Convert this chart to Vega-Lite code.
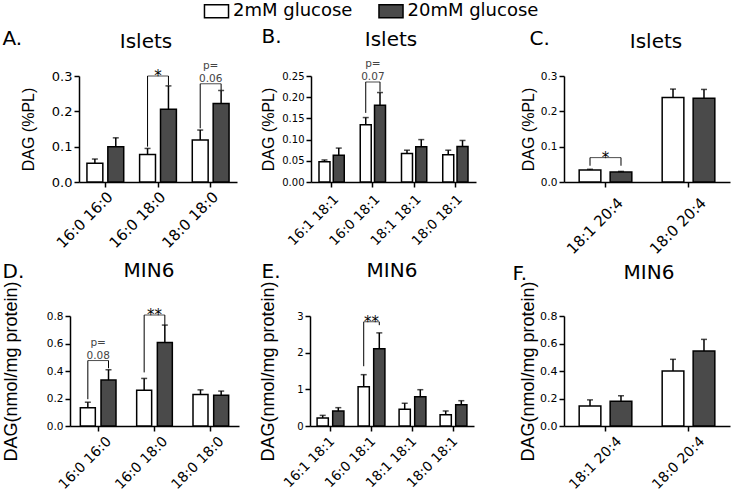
{
"$schema":"https://vega.github.io/schema/vega-lite/v6.json",
"padding":{"left":2,"top":2,"right":2,"bottom":2},
"config":{"font":"DejaVu Sans","view":{"stroke":null},
 "axis":{"grid":false,"domainColor":"black","domainWidth":1.5,"tickColor":"black","tickWidth":1.5,"tickSize":5,"labelColor":"black","titleColor":"black","titleFontWeight":"normal","labelPadding":2,"titleFont":"Liberation Sans","labelFont":"DejaVu Sans"},
 "axisY":{"labelOverlap":false},
 "title":{"fontWeight":"normal","fontSize":20,"color":"black","baseline":"alphabetic","font":"DejaVu Sans","anchor":"middle","frame":"group"}},
"resolve":{"scale":{"xOffset":"independent"}},
"bounds":"flush","columns":3,"spacing":{"row":134,"column":71},
"concat":[
{"width":169,"height":106,"title":{"text":"Islets","dx":-8.5,"offset":-24},"resolve":{"axis":{"x":"independent"}},
 "data":{"values":[
  {"lipid":"16:0 16:0","glc":"2mM glucose","mean":0.053,"err":0.065},
  {"lipid":"16:0 16:0","glc":"20mM glucose","mean":0.100,"err":0.125},
  {"lipid":"16:0 18:0","glc":"2mM glucose","mean":0.078,"err":0.095},
  {"lipid":"16:0 18:0","glc":"20mM glucose","mean":0.206,"err":0.272},
  {"lipid":"18:0 18:0","glc":"2mM glucose","mean":0.119,"err":0.147},
  {"lipid":"18:0 18:0","glc":"20mM glucose","mean":0.222,"err":0.259}]},
 "layer":[
  {"mark":{"type":"bar","stroke":"black","strokeWidth":1.5},"encoding":{
   "x":{"field":"lipid","type":"nominal","scale":{"domain":["16:0 16:0","16:0 18:0","18:0 18:0"],"range":[9,167],"paddingInner":0,"paddingOuter":0},"axis":{"title":null,"labelAngle":-45,"labelFontSize":15,"labelPadding":2}},
   "xOffset":{"field":"glc","type":"nominal","scale":{"domain":["2mM glucose","20mM glucose"],"paddingInner":0.24,"paddingOuter":0.38}},
   "y":{"field":"mean","type":"quantitative","title":"DAG (%PL)","scale":{"domain":[0,0.3],"nice":false},"axis":{"title":"DAG (%PL)","values":[0,0.1,0.2,0.3],"format":".1f","labelFontSize":13,"titleFontSize":16,"titlePadding":15,"offset":-9,"labelOverlap":false}},
   "fill":{"field":"glc","type":"nominal","scale":{"domain":["2mM glucose","20mM glucose"],"range":["white","#4a4a4a"]},"legend":{"title":null,"orient":"none","legendX":137.5,"legendY":-74,"direction":"horizontal","symbolType":"M-1.85,-1H1.85V1H-1.85Z","symbolSize":169,"symbolStrokeColor":"black","symbolStrokeWidth":1.5,"labelFontSize":18,"labelFont":"DejaVu Sans","labelColor":"black","labelOffset":7.5,"columnPadding":22.5}}}},
  {"mark":{"type":"rule","color":"black","strokeWidth":1.5},"encoding":{
   "x":{"field":"lipid","type":"nominal","scale":{"domain":["16:0 16:0","16:0 18:0","18:0 18:0"],"range":[9,167],"paddingInner":0,"paddingOuter":0},"axis":{"orient":"top","domain":false,"ticks":false,"labels":false,"title":"A.","titleX":-68,"titleY":-32,"titleAlign":"left","titleBaseline":"alphabetic","titleFontSize":20,"titleFont":"DejaVu Sans","titleAngle":0}},
   "xOffset":{"field":"glc","type":"nominal","scale":{"domain":["2mM glucose","20mM glucose"],"paddingInner":0.24,"paddingOuter":0.38}},
   "y":{"field":"mean","type":"quantitative","title":"DAG (%PL)","scale":{"domain":[0,0.3],"nice":false},"axis":{"title":"DAG (%PL)","values":[0,0.1,0.2,0.3],"format":".1f","labelFontSize":13,"titleFontSize":16,"titlePadding":15,"offset":-9,"labelOverlap":false}},"y2":{"field":"err"}}},
  {"mark":{"type":"tick","color":"black","thickness":1.5,"size":6},"encoding":{
   "x":{"field":"lipid","type":"nominal","axis":null},
   "xOffset":{"field":"glc","type":"nominal","scale":{"domain":["2mM glucose","20mM glucose"],"paddingInner":0.24,"paddingOuter":0.38}},
   "y":{"field":"err","type":"quantitative","title":"DAG (%PL)","scale":{"domain":[0,0.3],"nice":false},"axis":{"title":"DAG (%PL)","values":[0,0.1,0.2,0.3],"format":".1f","labelFontSize":13,"titleFontSize":16,"titlePadding":15,"offset":-9,"labelOverlap":false}}}},
  {"data":{"values":[
    {"lipid":"16:0 18:0","glc":"2mM glucose","lo":0.100,"hi":0.300},
    {"lipid":"16:0 18:0","glc":"20mM glucose","lo":0.273,"hi":0.300},
    {"lipid":"18:0 18:0","glc":"2mM glucose","lo":0.152,"hi":0.278},
    {"lipid":"18:0 18:0","glc":"20mM glucose","lo":0.260,"hi":0.278}]},
   "mark":{"type":"rule","color":"black","strokeWidth":1},"encoding":{
   "x":{"field":"lipid","type":"nominal","axis":null},
   "xOffset":{"field":"glc","type":"nominal","scale":{"domain":["2mM glucose","20mM glucose"],"paddingInner":0.24,"paddingOuter":0.38}},
   "y":{"field":"lo","type":"quantitative","title":"DAG (%PL)","scale":{"domain":[0,0.3],"nice":false},"axis":{"title":"DAG (%PL)","values":[0,0.1,0.2,0.3],"format":".1f","labelFontSize":13,"titleFontSize":16,"titlePadding":15,"offset":-9,"labelOverlap":false}},"y2":{"field":"hi"}}},
  {"data":{"values":[{"lipid":"16:0 18:0","h":0.300,"star":"*"},{"lipid":"18:0 18:0","h":0.278,"p":"0.06"}]},
   "layer":[
    {"mark":{"type":"tick","color":"black","thickness":1,"size":20.9},"encoding":{"x":{"field":"lipid","type":"nominal","axis":null},"y":{"field":"h","type":"quantitative","title":"DAG (%PL)","scale":{"domain":[0,0.3],"nice":false},"axis":{"title":"DAG (%PL)","values":[0,0.1,0.2,0.3],"format":".1f","labelFontSize":13,"titleFontSize":16,"titlePadding":15,"offset":-9,"labelOverlap":false}}}},
    {"transform":[{"filter":"datum.star"}],"mark":{"type":"text","fontSize":15,"dy":5,"baseline":"alphabetic","color":"black"},"encoding":{"x":{"field":"lipid","type":"nominal","axis":null},"y":{"field":"h","type":"quantitative","title":"DAG (%PL)","scale":{"domain":[0,0.3],"nice":false},"axis":{"title":"DAG (%PL)","values":[0,0.1,0.2,0.3],"format":".1f","labelFontSize":13,"titleFontSize":16,"titlePadding":15,"offset":-9,"labelOverlap":false}},"text":{"field":"star"}}},
    {"transform":[{"filter":"datum.p"}],"mark":{"type":"text","fontSize":10.5,"dy":-14.5,"baseline":"alphabetic","color":"#444"},"encoding":{"x":{"field":"lipid","type":"nominal","axis":null},"y":{"field":"h","type":"quantitative","title":"DAG (%PL)","scale":{"domain":[0,0.3],"nice":false},"axis":{"title":"DAG (%PL)","values":[0,0.1,0.2,0.3],"format":".1f","labelFontSize":13,"titleFontSize":16,"titlePadding":15,"offset":-9,"labelOverlap":false}},"text":{"value":"p="}}},
    {"transform":[{"filter":"datum.p"}],"mark":{"type":"text","fontSize":10.5,"dy":-1.8,"baseline":"alphabetic","color":"#444"},"encoding":{"x":{"field":"lipid","type":"nominal","axis":null},"y":{"field":"h","type":"quantitative","title":"DAG (%PL)","scale":{"domain":[0,0.3],"nice":false},"axis":{"title":"DAG (%PL)","values":[0,0.1,0.2,0.3],"format":".1f","labelFontSize":13,"titleFontSize":16,"titlePadding":15,"offset":-9,"labelOverlap":false}},"text":{"field":"p"}}}
   ]}
 ]},
{"width":183,"height":106,"title":{"text":"Islets","dx":-10.5,"offset":-24},"resolve":{"axis":{"x":"independent"}},
 "data":{"values":[
  {"lipid":"16:1 18:1","glc":"2mM glucose","mean":0.048,"err":0.052},
  {"lipid":"16:1 18:1","glc":"20mM glucose","mean":0.063,"err":0.080},
  {"lipid":"16:0 18:1","glc":"2mM glucose","mean":0.135,"err":0.152},
  {"lipid":"16:0 18:1","glc":"20mM glucose","mean":0.181,"err":0.211},
  {"lipid":"18:1 18:1","glc":"2mM glucose","mean":0.067,"err":0.075},
  {"lipid":"18:1 18:1","glc":"20mM glucose","mean":0.083,"err":0.100},
  {"lipid":"18:0 18:1","glc":"2mM glucose","mean":0.064,"err":0.075},
  {"lipid":"18:0 18:1","glc":"20mM glucose","mean":0.084,"err":0.098}]},
 "layer":[
  {"mark":{"type":"bar","stroke":"black","strokeWidth":1.5},"encoding":{
   "x":{"field":"lipid","type":"nominal","scale":{"domain":["16:1 18:1","16:0 18:1","18:1 18:1","18:0 18:1"],"range":[1,166],"paddingInner":0,"paddingOuter":0},"axis":{"title":null,"labelAngle":-45,"labelFontSize":13.5,"labelPadding":5}},
   "xOffset":{"field":"glc","type":"nominal","scale":{"domain":["2mM glucose","20mM glucose"],"paddingInner":0.23,"paddingOuter":0.56}},
   "y":{"field":"mean","type":"quantitative","title":"DAG (%PL)","scale":{"domain":[0,0.25],"nice":false},"axis":{"title":"DAG (%PL)","values":[0,0.05,0.1,0.15,0.2,0.25],"format":".2f","labelFontSize":10,"titleFontSize":16,"titlePadding":5,"offset":-1,"labelOverlap":false}},
   "fill":{"field":"glc","type":"nominal","scale":{"domain":["2mM glucose","20mM glucose"],"range":["white","#4a4a4a"]},"legend":{"title":null,"orient":"none","legendX":137.5,"legendY":-74,"direction":"horizontal","symbolType":"M-1.85,-1H1.85V1H-1.85Z","symbolSize":169,"symbolStrokeColor":"black","symbolStrokeWidth":1.5,"labelFontSize":18,"labelFont":"DejaVu Sans","labelColor":"black","labelOffset":7.5,"columnPadding":22.5}}}},
  {"mark":{"type":"rule","color":"black","strokeWidth":1.5},"encoding":{
   "x":{"field":"lipid","type":"nominal","scale":{"domain":["16:1 18:1","16:0 18:1","18:1 18:1","18:0 18:1"],"range":[1,166],"paddingInner":0,"paddingOuter":0},"axis":{"orient":"top","domain":false,"ticks":false,"labels":false,"title":"B.","titleX":-49,"titleY":-34,"titleAlign":"left","titleBaseline":"alphabetic","titleFontSize":20,"titleFont":"DejaVu Sans","titleAngle":0}},
   "xOffset":{"field":"glc","type":"nominal","scale":{"domain":["2mM glucose","20mM glucose"],"paddingInner":0.23,"paddingOuter":0.56}},
   "y":{"field":"mean","type":"quantitative","title":"DAG (%PL)","scale":{"domain":[0,0.25],"nice":false},"axis":{"title":"DAG (%PL)","values":[0,0.05,0.1,0.15,0.2,0.25],"format":".2f","labelFontSize":10,"titleFontSize":16,"titlePadding":5,"offset":-1,"labelOverlap":false}},"y2":{"field":"err"}}},
  {"mark":{"type":"tick","color":"black","thickness":1.5,"size":6},"encoding":{
   "x":{"field":"lipid","type":"nominal","axis":null},
   "xOffset":{"field":"glc","type":"nominal","scale":{"domain":["2mM glucose","20mM glucose"],"paddingInner":0.23,"paddingOuter":0.56}},
   "y":{"field":"err","type":"quantitative","title":"DAG (%PL)","scale":{"domain":[0,0.25],"nice":false},"axis":{"title":"DAG (%PL)","values":[0,0.05,0.1,0.15,0.2,0.25],"format":".2f","labelFontSize":10,"titleFontSize":16,"titlePadding":5,"offset":-1,"labelOverlap":false}}}},
  {"data":{"values":[
    {"lipid":"16:0 18:1","glc":"2mM glucose","lo":0.163,"hi":0.236},
    {"lipid":"16:0 18:1","glc":"20mM glucose","lo":0.213,"hi":0.236}]},
   "mark":{"type":"rule","color":"black","strokeWidth":1},"encoding":{
   "x":{"field":"lipid","type":"nominal","axis":null},
   "xOffset":{"field":"glc","type":"nominal","scale":{"domain":["2mM glucose","20mM glucose"],"paddingInner":0.23,"paddingOuter":0.56}},
   "y":{"field":"lo","type":"quantitative","title":"DAG (%PL)","scale":{"domain":[0,0.25],"nice":false},"axis":{"title":"DAG (%PL)","values":[0,0.05,0.1,0.15,0.2,0.25],"format":".2f","labelFontSize":10,"titleFontSize":16,"titlePadding":5,"offset":-1,"labelOverlap":false}},"y2":{"field":"hi"}}},
  {"data":{"values":[{"lipid":"16:0 18:1","h":0.236,"p":"0.07"}]},
   "layer":[
    {"mark":{"type":"tick","color":"black","thickness":1,"size":14.3},"encoding":{"x":{"field":"lipid","type":"nominal","axis":null},"y":{"field":"h","type":"quantitative","title":"DAG (%PL)","scale":{"domain":[0,0.25],"nice":false},"axis":{"title":"DAG (%PL)","values":[0,0.05,0.1,0.15,0.2,0.25],"format":".2f","labelFontSize":10,"titleFontSize":16,"titlePadding":5,"offset":-1,"labelOverlap":false}}}},
    {"mark":{"type":"text","fontSize":10.5,"dy":-14.5,"baseline":"alphabetic","color":"#444"},"encoding":{"x":{"field":"lipid","type":"nominal","axis":null},"y":{"field":"h","type":"quantitative","title":"DAG (%PL)","scale":{"domain":[0,0.25],"nice":false},"axis":{"title":"DAG (%PL)","values":[0,0.05,0.1,0.15,0.2,0.25],"format":".2f","labelFontSize":10,"titleFontSize":16,"titlePadding":5,"offset":-1,"labelOverlap":false}},"text":{"value":"p="}}},
    {"mark":{"type":"text","fontSize":10.5,"dy":-1.8,"baseline":"alphabetic","color":"#444"},"encoding":{"x":{"field":"lipid","type":"nominal","axis":null},"y":{"field":"h","type":"quantitative","title":"DAG (%PL)","scale":{"domain":[0,0.25],"nice":false},"axis":{"title":"DAG (%PL)","values":[0,0.05,0.1,0.15,0.2,0.25],"format":".2f","labelFontSize":10,"titleFontSize":16,"titlePadding":5,"offset":-1,"labelOverlap":false}},"text":{"field":"p"}}}
   ]}
 ]},
{"width":166,"height":106,"title":{"text":"Islets","dx":9,"offset":-24},"resolve":{"axis":{"x":"independent"}},
 "data":{"values":[
  {"lipid":"18:1 20:4","glc":"2mM glucose","mean":0.034,"err":0.036},
  {"lipid":"18:1 20:4","glc":"20mM glucose","mean":0.028,"err":0.030},
  {"lipid":"18:0 20:4","glc":"2mM glucose","mean":0.239,"err":0.263},
  {"lipid":"18:0 20:4","glc":"20mM glucose","mean":0.237,"err":0.262}]},
 "layer":[
  {"mark":{"type":"bar","stroke":"black","strokeWidth":1.5},"encoding":{
   "x":{"field":"lipid","type":"nominal","scale":{"domain":["18:1 20:4","18:0 20:4"],"range":[0,166],"paddingInner":0,"paddingOuter":0},"axis":{"title":null,"labelAngle":-45,"labelFontSize":15,"labelPadding":8,"labelOffset":10}},
   "xOffset":{"field":"glc","type":"nominal","scale":{"domain":["2mM glucose","20mM glucose"],"paddingInner":0.3,"paddingOuter":0.49}},
   "y":{"field":"mean","type":"quantitative","title":"DAG (%PL)","scale":{"domain":[0,0.3],"nice":false},"axis":{"title":"DAG (%PL)","values":[0,0.1,0.2,0.3],"format":".1f","labelFontSize":10.5,"titleFontSize":16,"titlePadding":4,"labelOverlap":false}},
   "fill":{"field":"glc","type":"nominal","scale":{"domain":["2mM glucose","20mM glucose"],"range":["white","#4a4a4a"]},"legend":{"title":null,"orient":"none","legendX":137.5,"legendY":-74,"direction":"horizontal","symbolType":"M-1.85,-1H1.85V1H-1.85Z","symbolSize":169,"symbolStrokeColor":"black","symbolStrokeWidth":1.5,"labelFontSize":18,"labelFont":"DejaVu Sans","labelColor":"black","labelOffset":7.5,"columnPadding":22.5}}}},
  {"mark":{"type":"rule","color":"black","strokeWidth":1.5},"encoding":{
   "x":{"field":"lipid","type":"nominal","scale":{"domain":["18:1 20:4","18:0 20:4"],"range":[0,166],"paddingInner":0,"paddingOuter":0},"axis":{"orient":"top","domain":false,"ticks":false,"labels":false,"title":"C.","titleX":-35,"titleY":-32,"titleAlign":"left","titleBaseline":"alphabetic","titleFontSize":20,"titleFont":"DejaVu Sans","titleAngle":0}},
   "xOffset":{"field":"glc","type":"nominal","scale":{"domain":["2mM glucose","20mM glucose"],"paddingInner":0.3,"paddingOuter":0.49}},
   "y":{"field":"mean","type":"quantitative","title":"DAG (%PL)","scale":{"domain":[0,0.3],"nice":false},"axis":{"title":"DAG (%PL)","values":[0,0.1,0.2,0.3],"format":".1f","labelFontSize":10.5,"titleFontSize":16,"titlePadding":4,"labelOverlap":false}},"y2":{"field":"err"}}},
  {"mark":{"type":"tick","color":"black","thickness":1.5,"size":6},"encoding":{
   "x":{"field":"lipid","type":"nominal","axis":null},
   "xOffset":{"field":"glc","type":"nominal","scale":{"domain":["2mM glucose","20mM glucose"],"paddingInner":0.3,"paddingOuter":0.49}},
   "y":{"field":"err","type":"quantitative","title":"DAG (%PL)","scale":{"domain":[0,0.3],"nice":false},"axis":{"title":"DAG (%PL)","values":[0,0.1,0.2,0.3],"format":".1f","labelFontSize":10.5,"titleFontSize":16,"titlePadding":4,"labelOverlap":false}}}},
  {"data":{"values":[
    {"lipid":"18:1 20:4","glc":"2mM glucose","lo":0.046,"hi":0.069},
    {"lipid":"18:1 20:4","glc":"20mM glucose","lo":0.046,"hi":0.069}]},
   "mark":{"type":"rule","color":"black","strokeWidth":1},"encoding":{
   "x":{"field":"lipid","type":"nominal","axis":null},
   "xOffset":{"field":"glc","type":"nominal","scale":{"domain":["2mM glucose","20mM glucose"],"paddingInner":0.3,"paddingOuter":0.49}},
   "y":{"field":"lo","type":"quantitative","title":"DAG (%PL)","scale":{"domain":[0,0.3],"nice":false},"axis":{"title":"DAG (%PL)","values":[0,0.1,0.2,0.3],"format":".1f","labelFontSize":10.5,"titleFontSize":16,"titlePadding":4,"labelOverlap":false}},"y2":{"field":"hi"}}},
  {"data":{"values":[{"lipid":"18:1 20:4","h":0.069,"star":"*"}]},
   "layer":[
    {"mark":{"type":"tick","color":"black","thickness":1,"size":31},"encoding":{"x":{"field":"lipid","type":"nominal","axis":null},"y":{"field":"h","type":"quantitative","title":"DAG (%PL)","scale":{"domain":[0,0.3],"nice":false},"axis":{"title":"DAG (%PL)","values":[0,0.1,0.2,0.3],"format":".1f","labelFontSize":10.5,"titleFontSize":16,"titlePadding":4,"labelOverlap":false}}}},
    {"mark":{"type":"text","fontSize":15,"dy":5,"baseline":"alphabetic","color":"black"},"encoding":{"x":{"field":"lipid","type":"nominal","axis":null},"y":{"field":"h","type":"quantitative","title":"DAG (%PL)","scale":{"domain":[0,0.3],"nice":false},"axis":{"title":"DAG (%PL)","values":[0,0.1,0.2,0.3],"format":".1f","labelFontSize":10.5,"titleFontSize":16,"titlePadding":4,"labelOverlap":false}},"text":{"field":"star"}}}
   ]}
 ]},
{"width":169,"height":110,"title":{"text":"MIN6","dx":-5.5,"offset":-20},"resolve":{"axis":{"x":"independent"}},
 "data":{"values":[
  {"lipid":"16:0 16:0","glc":"2mM glucose","mean":0.133,"err":0.173},
  {"lipid":"16:0 16:0","glc":"20mM glucose","mean":0.334,"err":0.409},
  {"lipid":"16:0 18:0","glc":"2mM glucose","mean":0.260,"err":0.346},
  {"lipid":"16:0 18:0","glc":"20mM glucose","mean":0.607,"err":0.734},
  {"lipid":"18:0 18:0","glc":"2mM glucose","mean":0.230,"err":0.263},
  {"lipid":"18:0 18:0","glc":"20mM glucose","mean":0.223,"err":0.254}]},
 "layer":[
  {"mark":{"type":"bar","stroke":"black","strokeWidth":1.5},"encoding":{
   "x":{"field":"lipid","type":"nominal","scale":{"domain":["16:0 16:0","16:0 18:0","18:0 18:0"],"range":[0,169],"paddingInner":0,"paddingOuter":0},"axis":{"title":null,"labelAngle":-45,"labelFontSize":14,"labelPadding":3,"labelOffset":6}},
   "xOffset":{"field":"glc","type":"nominal","scale":{"domain":["2mM glucose","20mM glucose"],"paddingInner":0.275,"paddingOuter":0.5}},
   "y":{"field":"mean","type":"quantitative","title":"DAG(nmol/mg protein)","scale":{"domain":[0,0.8],"nice":false},"axis":{"title":"DAG(nmol/mg protein)","values":[0,0.2,0.4,0.6,0.8],"format":".1f","labelFontSize":10.5,"titleFontSize":18,"titlePadding":26,"labelOverlap":false}},
   "fill":{"field":"glc","type":"nominal","scale":{"domain":["2mM glucose","20mM glucose"],"range":["white","#4a4a4a"]},"legend":{"title":null,"orient":"none","legendX":137.5,"legendY":-74,"direction":"horizontal","symbolType":"M-1.85,-1H1.85V1H-1.85Z","symbolSize":169,"symbolStrokeColor":"black","symbolStrokeWidth":1.5,"labelFontSize":18,"labelFont":"DejaVu Sans","labelColor":"black","labelOffset":7.5,"columnPadding":22.5}}}},
  {"mark":{"type":"rule","color":"black","strokeWidth":1.5},"encoding":{
   "x":{"field":"lipid","type":"nominal","scale":{"domain":["16:0 16:0","16:0 18:0","18:0 18:0"],"range":[0,169],"paddingInner":0,"paddingOuter":0},"axis":{"orient":"top","domain":false,"ticks":false,"labels":false,"title":"D.","titleX":-68,"titleY":-39,"titleAlign":"left","titleBaseline":"alphabetic","titleFontSize":20,"titleFont":"DejaVu Sans","titleAngle":0}},
   "xOffset":{"field":"glc","type":"nominal","scale":{"domain":["2mM glucose","20mM glucose"],"paddingInner":0.275,"paddingOuter":0.5}},
   "y":{"field":"mean","type":"quantitative","title":"DAG(nmol/mg protein)","scale":{"domain":[0,0.8],"nice":false},"axis":{"title":"DAG(nmol/mg protein)","values":[0,0.2,0.4,0.6,0.8],"format":".1f","labelFontSize":10.5,"titleFontSize":18,"titlePadding":26,"labelOverlap":false}},"y2":{"field":"err"}}},
  {"mark":{"type":"tick","color":"black","thickness":1.5,"size":6},"encoding":{
   "x":{"field":"lipid","type":"nominal","axis":null},
   "xOffset":{"field":"glc","type":"nominal","scale":{"domain":["2mM glucose","20mM glucose"],"paddingInner":0.275,"paddingOuter":0.5}},
   "y":{"field":"err","type":"quantitative","title":"DAG(nmol/mg protein)","scale":{"domain":[0,0.8],"nice":false},"axis":{"title":"DAG(nmol/mg protein)","values":[0,0.2,0.4,0.6,0.8],"format":".1f","labelFontSize":10.5,"titleFontSize":18,"titlePadding":26,"labelOverlap":false}}}},
  {"data":{"values":[
    {"lipid":"16:0 16:0","glc":"2mM glucose","lo":0.195,"hi":0.476},
    {"lipid":"16:0 16:0","glc":"20mM glucose","lo":0.42,"hi":0.476},
    {"lipid":"16:0 18:0","glc":"2mM glucose","lo":0.39,"hi":0.807},
    {"lipid":"16:0 18:0","glc":"20mM glucose","lo":0.735,"hi":0.807}]},
   "mark":{"type":"rule","color":"black","strokeWidth":1},"encoding":{
   "x":{"field":"lipid","type":"nominal","axis":null},
   "xOffset":{"field":"glc","type":"nominal","scale":{"domain":["2mM glucose","20mM glucose"],"paddingInner":0.275,"paddingOuter":0.5}},
   "y":{"field":"lo","type":"quantitative","title":"DAG(nmol/mg protein)","scale":{"domain":[0,0.8],"nice":false},"axis":{"title":"DAG(nmol/mg protein)","values":[0,0.2,0.4,0.6,0.8],"format":".1f","labelFontSize":10.5,"titleFontSize":18,"titlePadding":26,"labelOverlap":false}},"y2":{"field":"hi"}}},
  {"data":{"values":[{"lipid":"16:0 16:0","h":0.476,"p":"0.08"},{"lipid":"16:0 18:0","h":0.807,"star":"**"}]},
   "layer":[
    {"mark":{"type":"tick","color":"black","thickness":1,"size":20.7},"encoding":{"x":{"field":"lipid","type":"nominal","axis":null},"y":{"field":"h","type":"quantitative","title":"DAG(nmol/mg protein)","scale":{"domain":[0,0.8],"nice":false},"axis":{"title":"DAG(nmol/mg protein)","values":[0,0.2,0.4,0.6,0.8],"format":".1f","labelFontSize":10.5,"titleFontSize":18,"titlePadding":26,"labelOverlap":false}}}},
    {"transform":[{"filter":"datum.star"}],"mark":{"type":"text","fontSize":15,"dy":5,"baseline":"alphabetic","color":"black"},"encoding":{"x":{"field":"lipid","type":"nominal","axis":null},"y":{"field":"h","type":"quantitative","title":"DAG(nmol/mg protein)","scale":{"domain":[0,0.8],"nice":false},"axis":{"title":"DAG(nmol/mg protein)","values":[0,0.2,0.4,0.6,0.8],"format":".1f","labelFontSize":10.5,"titleFontSize":18,"titlePadding":26,"labelOverlap":false}},"text":{"field":"star"}}},
    {"transform":[{"filter":"datum.p"}],"mark":{"type":"text","fontSize":10.5,"dy":-14.5,"baseline":"alphabetic","color":"#444"},"encoding":{"x":{"field":"lipid","type":"nominal","axis":null},"y":{"field":"h","type":"quantitative","title":"DAG(nmol/mg protein)","scale":{"domain":[0,0.8],"nice":false},"axis":{"title":"DAG(nmol/mg protein)","values":[0,0.2,0.4,0.6,0.8],"format":".1f","labelFontSize":10.5,"titleFontSize":18,"titlePadding":26,"labelOverlap":false}},"text":{"value":"p="}}},
    {"transform":[{"filter":"datum.p"}],"mark":{"type":"text","fontSize":10.5,"dy":-1.8,"baseline":"alphabetic","color":"#444"},"encoding":{"x":{"field":"lipid","type":"nominal","axis":null},"y":{"field":"h","type":"quantitative","title":"DAG(nmol/mg protein)","scale":{"domain":[0,0.8],"nice":false},"axis":{"title":"DAG(nmol/mg protein)","values":[0,0.2,0.4,0.6,0.8],"format":".1f","labelFontSize":10.5,"titleFontSize":18,"titlePadding":26,"labelOverlap":false}},"text":{"field":"p"}}}
   ]}
 ]},
{"width":183,"height":110,"title":{"text":"MIN6","dx":-9.5,"offset":-20},"resolve":{"axis":{"x":"independent"}},
 "data":{"values":[
  {"lipid":"16:1 18:1","glc":"2mM glucose","mean":0.22,"err":0.29},
  {"lipid":"16:1 18:1","glc":"20mM glucose","mean":0.41,"err":0.50},
  {"lipid":"16:0 18:1","glc":"2mM glucose","mean":1.07,"err":1.40},
  {"lipid":"16:0 18:1","glc":"20mM glucose","mean":2.11,"err":2.54},
  {"lipid":"18:1 18:1","glc":"2mM glucose","mean":0.46,"err":0.62},
  {"lipid":"18:1 18:1","glc":"20mM glucose","mean":0.80,"err":0.99},
  {"lipid":"18:0 18:1","glc":"2mM glucose","mean":0.31,"err":0.41},
  {"lipid":"18:0 18:1","glc":"20mM glucose","mean":0.58,"err":0.69}]},
 "layer":[
  {"mark":{"type":"bar","stroke":"black","strokeWidth":1.5},"encoding":{
   "x":{"field":"lipid","type":"nominal","scale":{"domain":["16:1 18:1","16:0 18:1","18:1 18:1","18:0 18:1"],"range":[0,164],"paddingInner":0,"paddingOuter":0},"axis":{"title":null,"labelAngle":-45,"labelFontSize":13.5,"labelPadding":3,"labelOffset":-3}},
   "xOffset":{"field":"glc","type":"nominal","scale":{"domain":["2mM glucose","20mM glucose"],"paddingInner":0.28,"paddingOuter":0.455}},
   "y":{"field":"mean","type":"quantitative","title":"DAG(nmol/mg protein)","scale":{"domain":[0,3],"nice":false},"axis":{"title":"DAG(nmol/mg protein)","values":[0,1,2,3],"format":"d","labelFontSize":10,"titleFontSize":18,"titlePadding":19,"labelOverlap":false}},
   "fill":{"field":"glc","type":"nominal","scale":{"domain":["2mM glucose","20mM glucose"],"range":["white","#4a4a4a"]},"legend":{"title":null,"orient":"none","legendX":137.5,"legendY":-74,"direction":"horizontal","symbolType":"M-1.85,-1H1.85V1H-1.85Z","symbolSize":169,"symbolStrokeColor":"black","symbolStrokeWidth":1.5,"labelFontSize":18,"labelFont":"DejaVu Sans","labelColor":"black","labelOffset":7.5,"columnPadding":22.5}}}},
  {"mark":{"type":"rule","color":"black","strokeWidth":1.5},"encoding":{
   "x":{"field":"lipid","type":"nominal","scale":{"domain":["16:1 18:1","16:0 18:1","18:1 18:1","18:0 18:1"],"range":[0,164],"paddingInner":0,"paddingOuter":0},"axis":{"orient":"top","domain":false,"ticks":false,"labels":false,"title":"E.","titleX":-49,"titleY":-39,"titleAlign":"left","titleBaseline":"alphabetic","titleFontSize":20,"titleFont":"DejaVu Sans","titleAngle":0}},
   "xOffset":{"field":"glc","type":"nominal","scale":{"domain":["2mM glucose","20mM glucose"],"paddingInner":0.28,"paddingOuter":0.455}},
   "y":{"field":"mean","type":"quantitative","title":"DAG(nmol/mg protein)","scale":{"domain":[0,3],"nice":false},"axis":{"title":"DAG(nmol/mg protein)","values":[0,1,2,3],"format":"d","labelFontSize":10,"titleFontSize":18,"titlePadding":19,"labelOverlap":false}},"y2":{"field":"err"}}},
  {"mark":{"type":"tick","color":"black","thickness":1.5,"size":6},"encoding":{
   "x":{"field":"lipid","type":"nominal","axis":null},
   "xOffset":{"field":"glc","type":"nominal","scale":{"domain":["2mM glucose","20mM glucose"],"paddingInner":0.28,"paddingOuter":0.455}},
   "y":{"field":"err","type":"quantitative","title":"DAG(nmol/mg protein)","scale":{"domain":[0,3],"nice":false},"axis":{"title":"DAG(nmol/mg protein)","values":[0,1,2,3],"format":"d","labelFontSize":10,"titleFontSize":18,"titlePadding":19,"labelOverlap":false}}}},
  {"data":{"values":[
    {"lipid":"16:0 18:1","glc":"2mM glucose","lo":1.63,"hi":2.84},
    {"lipid":"16:0 18:1","glc":"20mM glucose","lo":2.75,"hi":2.84}]},
   "mark":{"type":"rule","color":"black","strokeWidth":1},"encoding":{
   "x":{"field":"lipid","type":"nominal","axis":null},
   "xOffset":{"field":"glc","type":"nominal","scale":{"domain":["2mM glucose","20mM glucose"],"paddingInner":0.28,"paddingOuter":0.455}},
   "y":{"field":"lo","type":"quantitative","title":"DAG(nmol/mg protein)","scale":{"domain":[0,3],"nice":false},"axis":{"title":"DAG(nmol/mg protein)","values":[0,1,2,3],"format":"d","labelFontSize":10,"titleFontSize":18,"titlePadding":19,"labelOverlap":false}},"y2":{"field":"hi"}}},
  {"data":{"values":[{"lipid":"16:0 18:1","h":2.84,"star":"**"}]},
   "layer":[
    {"mark":{"type":"tick","color":"black","thickness":1,"size":15.6},"encoding":{"x":{"field":"lipid","type":"nominal","axis":null},"y":{"field":"h","type":"quantitative","title":"DAG(nmol/mg protein)","scale":{"domain":[0,3],"nice":false},"axis":{"title":"DAG(nmol/mg protein)","values":[0,1,2,3],"format":"d","labelFontSize":10,"titleFontSize":18,"titlePadding":19,"labelOverlap":false}}}},
    {"mark":{"type":"text","fontSize":15,"dy":5,"baseline":"alphabetic","color":"black"},"encoding":{"x":{"field":"lipid","type":"nominal","axis":null},"y":{"field":"h","type":"quantitative","title":"DAG(nmol/mg protein)","scale":{"domain":[0,3],"nice":false},"axis":{"title":"DAG(nmol/mg protein)","values":[0,1,2,3],"format":"d","labelFontSize":10,"titleFontSize":18,"titlePadding":19,"labelOverlap":false}},"text":{"field":"star"}}}
   ]}
 ]},
{"width":166,"height":110,"title":{"text":"MIN6","dx":2,"offset":-20},"resolve":{"axis":{"x":"independent"}},
 "data":{"values":[
  {"lipid":"18:1 20:4","glc":"2mM glucose","mean":0.145,"err":0.19},
  {"lipid":"18:1 20:4","glc":"20mM glucose","mean":0.18,"err":0.22},
  {"lipid":"18:0 20:4","glc":"2mM glucose","mean":0.40,"err":0.485},
  {"lipid":"18:0 20:4","glc":"20mM glucose","mean":0.545,"err":0.63}]},
 "layer":[
  {"mark":{"type":"bar","stroke":"black","strokeWidth":1.5},"encoding":{
   "x":{"field":"lipid","type":"nominal","scale":{"domain":["18:1 20:4","18:0 20:4"],"range":[0,166],"paddingInner":0,"paddingOuter":0},"axis":{"title":null,"labelAngle":-45,"labelFontSize":14,"labelPadding":3,"labelOffset":9}},
   "xOffset":{"field":"glc","type":"nominal","scale":{"domain":["2mM glucose","20mM glucose"],"paddingInner":0.3,"paddingOuter":0.49}},
   "y":{"field":"mean","type":"quantitative","title":"DAG(nmol/mg protein)","scale":{"domain":[0,0.8],"nice":false},"axis":{"title":"DAG(nmol/mg protein)","values":[0,0.2,0.4,0.6,0.8],"format":".1f","labelFontSize":11,"titleFontSize":18,"titlePadding":2,"labelOverlap":false}},
   "fill":{"field":"glc","type":"nominal","scale":{"domain":["2mM glucose","20mM glucose"],"range":["white","#4a4a4a"]},"legend":{"title":null,"orient":"none","legendX":137.5,"legendY":-74,"direction":"horizontal","symbolType":"M-1.85,-1H1.85V1H-1.85Z","symbolSize":169,"symbolStrokeColor":"black","symbolStrokeWidth":1.5,"labelFontSize":18,"labelFont":"DejaVu Sans","labelColor":"black","labelOffset":7.5,"columnPadding":22.5}}}},
  {"mark":{"type":"rule","color":"black","strokeWidth":1.5},"encoding":{
   "x":{"field":"lipid","type":"nominal","scale":{"domain":["18:1 20:4","18:0 20:4"],"range":[0,166],"paddingInner":0,"paddingOuter":0},"axis":{"orient":"top","domain":false,"ticks":false,"labels":false,"title":"F.","titleX":-52,"titleY":-37,"titleAlign":"left","titleBaseline":"alphabetic","titleFontSize":20,"titleFont":"DejaVu Sans","titleAngle":0}},
   "xOffset":{"field":"glc","type":"nominal","scale":{"domain":["2mM glucose","20mM glucose"],"paddingInner":0.3,"paddingOuter":0.49}},
   "y":{"field":"mean","type":"quantitative","title":"DAG(nmol/mg protein)","scale":{"domain":[0,0.8],"nice":false},"axis":{"title":"DAG(nmol/mg protein)","values":[0,0.2,0.4,0.6,0.8],"format":".1f","labelFontSize":11,"titleFontSize":18,"titlePadding":2,"labelOverlap":false}},"y2":{"field":"err"}}},
  {"mark":{"type":"tick","color":"black","thickness":1.5,"size":6},"encoding":{
   "x":{"field":"lipid","type":"nominal","axis":null},
   "xOffset":{"field":"glc","type":"nominal","scale":{"domain":["2mM glucose","20mM glucose"],"paddingInner":0.3,"paddingOuter":0.49}},
   "y":{"field":"err","type":"quantitative","title":"DAG(nmol/mg protein)","scale":{"domain":[0,0.8],"nice":false},"axis":{"title":"DAG(nmol/mg protein)","values":[0,0.2,0.4,0.6,0.8],"format":".1f","labelFontSize":11,"titleFontSize":18,"titlePadding":2,"labelOverlap":false}}}}
 ]}
]}
